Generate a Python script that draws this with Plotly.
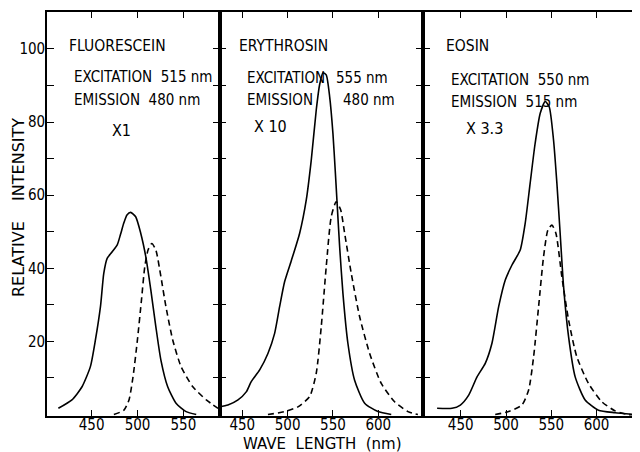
import plotly.graph_objects as go

# ---------------- data ----------------
# Fluorescein
fl_ex_x = [413.7, 428.5, 439.5, 448.6, 454.1, 459.6, 463.2, 466.9, 472.4, 477.9, 481.5, 485.2, 488.5, 492.5, 498.0, 503.5, 509.0, 514.5, 520.0, 525.5, 532.9, 542.0, 553.0, 564.0]
fl_ex_y = [1.7, 4.0, 7.6, 13.1, 20.4, 29.5, 38.6, 42.7, 44.5, 46.4, 49.3, 52.5, 54.6, 55.3, 54.1, 49.6, 43.2, 34.1, 24.0, 14.9, 7.6, 3.1, 0.8, 0.0]
fl_em_x = [474.2, 485.2, 490.7, 495.1, 499.9, 504.3, 507.9, 511.5, 515.6, 520.0, 525.5, 531.0, 538.4, 547.5, 560.3, 575.0, 587.8]
fl_em_y = [0.0, 1.2, 4.0, 10.3, 20.4, 31.3, 40.4, 45.0, 46.8, 45.0, 37.7, 29.5, 20.4, 13.1, 7.6, 4.0, 1.7]

# Erythrosin
er_ex_x = [424.9, 434.2, 445.3, 454.4, 459.9, 469.2, 478.3, 485.7, 491.2, 496.7, 504.0, 513.3, 520.6, 526.1, 531.6, 535.3, 539.0, 542.6, 546.4, 550.0, 552.5, 554.4, 557.4, 561.0, 566.5, 573.9, 585.0, 599.6, 614.3]
er_ex_y = [2.1, 2.6, 4.0, 6.2, 9.0, 12.2, 16.7, 22.2, 29.5, 36.3, 42.0, 49.6, 58.7, 69.6, 83.3, 90.2, 93.5, 92.9, 86.9, 76.9, 66.9, 58.7, 45.9, 33.2, 19.5, 9.4, 3.1, 0.8, 0.0]
er_em_x = [478.3, 496.7, 511.4, 524.3, 531.6, 537.1, 542.6, 548.1, 553.6, 558.5, 562.9, 570.2, 579.4, 590.5, 603.3, 618.0, 632.7, 643.7]
er_em_y = [0.0, 0.8, 2.1, 4.9, 11.3, 24.0, 40.4, 54.1, 58.2, 56.0, 49.6, 38.6, 26.8, 16.7, 8.5, 3.5, 0.8, 0.0]

# Eosin
eo_ex_x = [423.9, 440.4, 449.6, 458.8, 468.0, 477.1, 484.5, 491.9, 499.2, 506.6, 515.7, 521.2, 526.7, 532.2, 537.8, 543.3, 547.7, 552.5, 556.2, 559.8, 563.6, 569.1, 576.4, 587.4, 602.1, 620.5, 642.5]
eo_ex_y = [1.7, 1.7, 2.6, 5.3, 10.3, 14.0, 19.5, 29.5, 36.8, 40.9, 45.0, 52.3, 63.3, 74.2, 82.4, 85.6, 84.2, 75.1, 63.3, 49.6, 35.0, 21.3, 10.3, 4.0, 1.2, 0.5, 0.0]
eo_em_x = [488.1, 502.9, 517.6, 525.0, 530.5, 536.0, 541.5, 546.3, 550.7, 555.1, 561.7, 569.1, 578.2, 591.1, 605.8, 620.5, 635.2, 647.0]
eo_em_y = [0.0, 0.8, 2.6, 6.7, 15.8, 29.5, 43.2, 50.5, 51.8, 49.6, 37.7, 25.9, 15.8, 8.5, 3.5, 1.0, 0.0, 0.0]

y_tickvals = [10, 20, 30, 40, 50, 60, 70, 80, 90, 100]
y_ticktext = ["", "20", "", "40", "", "60", "", "80", "", "100"]
x_ticks_1 = [450, 500, 550]
x_ticks_23 = [450, 500, 550, 600]

panel_names = ["FLUORESCEIN", "ERYTHROSIN", "EOSIN"]
excitation_txt = ["EXCITATION  515 nm", "EXCITATION", "EXCITATION  550 nm"]
emission_txt = ["EMISSION  480 nm", "EMISSION", "EMISSION  515 nm"]
factor_txt = ["X1", "X 10", "X 3.3"]

# ---------------- figure ----------------
FONT = "DejaVu Sans Condensed, Liberation Sans Narrow, Liberation Sans, Arial, sans-serif"
FONT_WIDE = "DejaVu Sans, Liberation Sans, Arial, sans-serif"
OFF = 8                      # default page body margin
WIN_W, WIN_H = 640, 452
W, H = WIN_W - OFF, WIN_H - OFF
# plot area in window pixels
PX0, PX1, PY0, PY1 = 47, 640, 12, 416
L, T = PX0 - OFF, PY0 - OFF
R, B = W - (PX1 - OFF), H - (PY1 - OFF)
PW, PH = PX1 - PX0, PY1 - PY0

def paper(px, py):
    """window pixel -> paper coordinates"""
    return (px - PX0) / PW, (PY1 - py) / PH

fig = go.Figure()

series = [
    (fl_ex_x, fl_ex_y, fl_em_x, fl_em_y),
    (er_ex_x, er_ex_y, er_em_x, er_em_y),
    (eo_ex_x, eo_ex_y, eo_em_x, eo_em_y),
]
for i, (ex_x, ex_y, em_x, em_y) in enumerate(series):
    xa = "x" if i == 0 else f"x{i+1}"
    ya = "y" if i == 0 else f"y{i+1}"
    fig.add_trace(go.Scatter(x=ex_x, y=ex_y, mode="lines", xaxis=xa, yaxis=ya,
                             line=dict(color="black", width=1.6, shape="spline", smoothing=0.6),
                             hoverinfo="skip"))
    fig.add_trace(go.Scatter(x=em_x, y=em_y, mode="lines", xaxis=xa, yaxis=ya,
                             line=dict(color="black", width=1.6, dash="6px,4px", shape="spline", smoothing=0.6),
                             hoverinfo="skip"))

d1 = (219.5 - PX0) / PW
d2 = (422.7 - PX0) / PW
domains = [[0, d1], [d1, d2], [d2, 1]]
xranges = [[401.3, 589.4], [424.9, 649.0], [408.0, 648.0]]
xticks = [x_ticks_1, x_ticks_23, x_ticks_23]

layout = dict(
    width=W, height=H,
    margin=dict(l=L, r=R, t=T, b=B, pad=0, autoexpand=False),
    paper_bgcolor="white", plot_bgcolor="white",
    showlegend=False,
    font=dict(family=FONT, color="black", size=14),
)
for i in range(3):
    xk = "xaxis" if i == 0 else f"xaxis{i+1}"
    yk = "yaxis" if i == 0 else f"yaxis{i+1}"
    layout[xk] = dict(domain=domains[i], range=xranges[i], anchor="y" if i == 0 else f"y{i+1}",
                      tickvals=xticks[i], ticks="inside", ticklen=6, tickwidth=1.3, tickcolor="black",
                      showline=True, linecolor="black", linewidth=1.6, mirror="ticks",
                      showgrid=False, zeroline=False, ticklabelstandoff=-6,
                      tickfont=dict(size=15, family=FONT))
    layout[yk] = dict(domain=[0, 1], range=[-0.4, 110.1], anchor="x" if i == 0 else f"x{i+1}",
                      tickvals=y_tickvals, ticktext=y_ticktext, ticks="inside", ticklen=7,
                      tickwidth=1.3, tickcolor="black",
                      showline=True, linecolor="black", linewidth=1.6, mirror="ticks",
                      showgrid=False, zeroline=False, showticklabels=(i == 0),
                      ticklabelstandoff=-3, tickfont=dict(size=15, family=FONT))
fig.update_layout(**layout)

ann = []
def add_text(txt, px, py, size=15, anchor="left", family=FONT):
    x, y = paper(px, py)
    ann.append(dict(text=txt, x=x, y=y, xref="paper", yref="paper", xanchor=anchor,
                    yanchor="middle", showarrow=False, font=dict(size=size, family=family, color="black")))

# panel titles
add_text(panel_names[0], 67, 46, size=15.5)
add_text(panel_names[1], 237, 46, size=15.5)
add_text(panel_names[2], 444, 46, size=15.5)
# panel 1
add_text(excitation_txt[0], 72, 77)
add_text(emission_txt[0], 72, 100)
add_text(factor_txt[0], 110, 130, size=16)
# panel 2
add_text(excitation_txt[1], 245, 78)
add_text("555 nm", 334, 78)
add_text(emission_txt[1], 245, 100)
add_text("480 nm", 341, 100)
add_text(factor_txt[1], 252, 126, size=16)
# panel 3
add_text(excitation_txt[2], 449, 80)
add_text(emission_txt[2], 449, 102)
add_text(factor_txt[2], 464, 128, size=16)

# axis titles
xt, yt = paper(322, 444)
ann.append(dict(text="WAVE\u00a0\u00a0LENGTH\u00a0\u00a0(nm)", x=xt, y=yt, xref="paper", yref="paper",
                xanchor="center", yanchor="middle", showarrow=False,
                font=dict(size=15, family=FONT_WIDE, color="black")))
xt, yt = paper(18, 208)
ann.append(dict(text="RELATIVE\u00a0\u00a0\u00a0\u00a0INTENSITY", x=xt, y=yt, xref="paper", yref="paper",
                xanchor="center", yanchor="middle", showarrow=False, textangle=-90,
                font=dict(size=16, family=FONT_WIDE, color="black")))
fig.update_layout(annotations=ann)

fig.write_html("out.html")
